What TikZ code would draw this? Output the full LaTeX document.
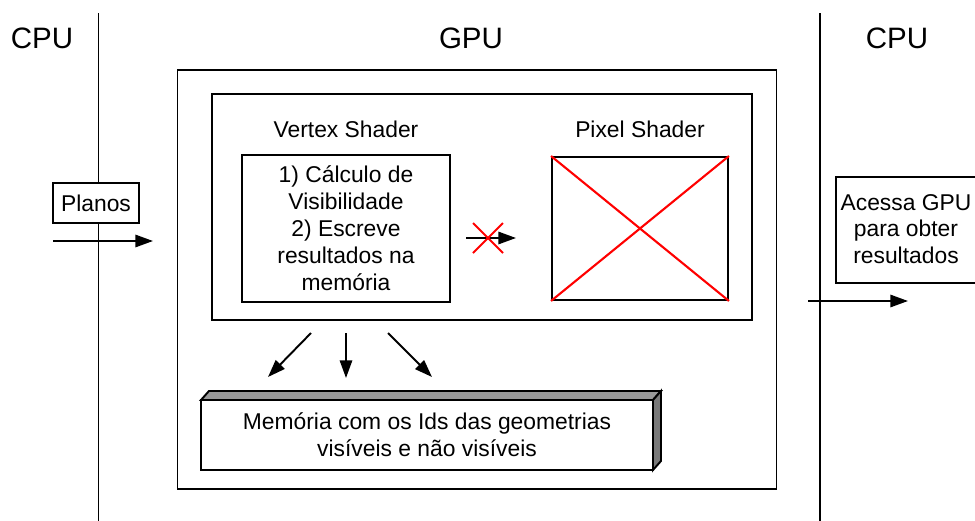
\documentclass[tikz,border=0pt]{standalone}
\usepackage{fontspec}
\setmainfont{Liberation Sans}
\usetikzlibrary{arrows.meta}
\begin{document}
\begin{tikzpicture}[x=0.02cm,y=-0.02cm,
  box/.style={draw,line width=1.1pt,inner sep=0pt},
  lbl/.style={font=\fontsize{13}{15.2}\selectfont,align=center},
  big/.style={font=\fontsize{16.8}{19}\selectfont},
  arr/.style={line width=1.1pt,-{Triangle[length=10pt,width=7pt]}},
  sep/.style={line width=1.1pt}]
\useasboundingbox (0,0) rectangle (975,521);
% separators
\draw[sep] (98.5,13) -- (98.5,521);
\draw[sep] (820,13) -- (820,521);
\node[big] (cpu1) at (42,38) {CPU};
\node[big] (gpu) at (471,38) {GPU};
\node[big] (cpu2) at (897,38) {CPU};
% GPU boxes
\node[box,minimum width=599*0.02cm,minimum height=419*0.02cm] (outer) at (477,279.5) {};
\node[box,minimum width=540*0.02cm,minimum height=226*0.02cm] (inner) at (482,207) {};
\node[lbl] (vs) at (346,129) {Vertex Shader};
\node[lbl] (ps) at (640,129) {Pixel Shader};
\node[box,minimum width=208*0.02cm,minimum height=147*0.02cm] (vbox) at (346,228.5) {};
\node[lbl,font=\fontsize{13}{15.4}\selectfont] (vtext) at (vbox.center)
  {1) Cálculo de\\Visibilidade\\2) Escreve\\resultados na\\memória};
\node[box,minimum width=176*0.02cm,minimum height=143*0.02cm] (pbox) at (640,228.5) {};
\draw[red,line width=1.2pt] (pbox.north west) -- (pbox.south east);
\draw[red,line width=1.2pt] (pbox.south west) -- (pbox.north east);
% blocked arrow
\coordinate (ba) at (466,238);
\coordinate (bb) at (516,238);
\draw[arr] (ba) -- (bb);
\coordinate (xc) at (488,238);
\draw[red,line width=1.2pt] ([shift={(-15,-15)}]xc) -- ([shift={(15,15)}]xc);
\draw[red,line width=1.2pt] ([shift={(-15,15)}]xc) -- ([shift={(15,-15)}]xc);
% Planos
\node[box,lbl,fill=white,minimum width=86*0.02cm,minimum height=40*0.02cm] (planos) at (96,203) {Planos};
\coordinate (pa) at (53,241);
\coordinate (pb) at (153,241);
\draw[arr] (pa) -- (pb);
% right CPU
\node[box,minimum width=143*0.02cm,minimum height=106*0.02cm,anchor=north west] (acc) at (835,176) {};
\node[lbl] (acctext) at (906,229) {Acessa GPU\\para obter\\resultados};
\coordinate (ra) at (808,301);
\coordinate (rb) at (908,301);
\draw[arr] (ra) -- (rb);
% three arrows
\coordinate (a1s) at (311,333); \coordinate (a1e) at (268,377);
\coordinate (a2s) at (346,333); \coordinate (a2e) at (346,378);
\coordinate (a3s) at (388,333); \coordinate (a3e) at (432,377);
\draw[arr] (a1s) -- (a1e);
\draw[arr] (a2s) -- (a2e);
\draw[arr] (a3s) -- (a3e);
% memory block
\fill[gray!80,draw=black,line width=1.1pt] (201,400) -- (209,391) -- (661,391) -- (653,400) -- cycle;
\fill[gray!95!black,draw=black,line width=1.1pt] (653,400) -- (661,391) -- (661,461) -- (653,470) -- cycle;
\node[box,fill=white,minimum width=452*0.02cm,minimum height=70*0.02cm] (mem) at (427,435) {};
\node[lbl] (memtext) at (mem.center)
  {Memória com os Ids das geometrias\\visíveis e não visíveis};
\end{tikzpicture}
\end{document}
